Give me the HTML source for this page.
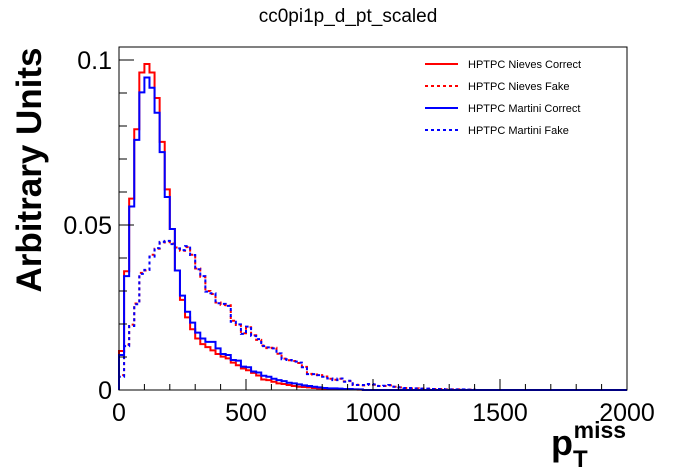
<!DOCTYPE html>
<html><head><meta charset="utf-8"><style>
body{margin:0;background:#fff;}
svg{display:block;font-family:"Liberation Sans",sans-serif;}
</style></head><body>
<svg id="c" width="696" height="472">
<rect width="696" height="472" fill="#fff"/>
<text x="348" y="22" font-size="19" text-anchor="middle">cc0pi1p_d_pt_scaled</text>
<g id="series"></g>
<rect x="119" y="47" width="508" height="343" fill="none" stroke="#000" stroke-width="1"/>
<g id="axes"></g>
<text transform="translate(41,170) rotate(-90)" font-size="35" font-weight="bold" text-anchor="middle">Arbitrary Units</text>
<text x="551" y="455" font-size="36" font-weight="bold">p<tspan font-size="24" dy="12">T</tspan><tspan font-size="23" dx="-14" dy="-29">miss</tspan></text>
<g id="legend"></g>
</svg>
<script>
const binWidth = 20;
const nieCorrect = [0.0118,0.036,0.058,0.079,0.0962,0.0988,0.0962,0.0885,0.0752,0.0608,0.0488,0.0362,0.0273,0.022,0.0184,0.0156,0.0139,0.013,0.012,0.0109,0.0101,0.0096,0.0083,0.0075,0.0065,0.006,0.0052,0.0044,0.0032,0.003,0.0025,0.002,0.0018,0.0015,0.0012,0.001,0.0009,0.0008,0.0006,0.0005,0.0004,0.0004,0.0003,0.0003,0.0002,0.0002,0.0002,0.0001];
const marCorrect = [0.0106,0.0345,0.0556,0.0758,0.0902,0.0947,0.0916,0.084,0.0721,0.0585,0.0488,0.0362,0.0286,0.0237,0.0204,0.0174,0.0156,0.0146,0.0146,0.0126,0.0109,0.0106,0.0091,0.0089,0.0071,0.0069,0.0056,0.0053,0.0043,0.004,0.0034,0.003,0.0027,0.0022,0.002,0.0017,0.0014,0.0012,0.001,0.0008,0.0006,0.0005,0.0005,0.0004,0.0003,0.0003,0.0002,0.0002];
const marFake = [0.004,0.0133,0.0194,0.026,0.0352,0.0364,0.0404,0.043,0.0449,0.0452,0.0442,0.0429,0.0424,0.0436,0.0409,0.0366,0.0345,0.0298,0.0293,0.0263,0.0261,0.0255,0.0207,0.0199,0.017,0.0192,0.0164,0.0154,0.0133,0.0129,0.0126,0.0111,0.0093,0.0091,0.0086,0.0083,0.0069,0.0048,0.0048,0.0045,0.004,0.0035,0.003,0.0035,0.0025,0.0028,0.0015,0.0015,0.0015,0.0018,0.0017,0.0012,0.0013,0.0015,0.001,0.0008,0.0006,0.0006,0.0005,0.0004,0.0004,0.0003,0.0003,0.0003,0.0002,0.0002,0.0002,0.0002,0.0001,0.0001];
const nieFake = [0.0045,0.0138,0.0198,0.0262,0.0355,0.0362,0.041,0.0428,0.0447,0.045,0.0444,0.0432,0.0422,0.0433,0.041,0.0368,0.0343,0.03,0.0291,0.0265,0.0258,0.0257,0.021,0.0197,0.0172,0.019,0.0166,0.0152,0.0135,0.0127,0.0128,0.011,0.0095,0.009,0.0088,0.0082,0.007,0.0049,0.0047,0.0045,0.0041,0.0034,0.0031,0.0034,0.0026,0.0027,0.0016,0.0015,0.0014,0.0017,0.0016,0.0012,0.0012,0.0014,0.001,0.0008,0.0006,0.0005,0.0005,0.0004,0.0004,0.0003,0.0003,0.0003,0.0002,0.0002,0.0002,0.0001,0.0001,0.0001];
const xTicks = [0,500,1000,1500,2000];
const yTicks = [0,0.05,0.1];
const yTickLabels = ["0","0.05","0.1"];
const legendNames = ["HPTPC Nieves Correct","HPTPC Nieves Fake","HPTPC Martini Correct","HPTPC Martini Fake"];

const X0=119,X1=627,Y0=390,Y1=47,XMAX=2000,YMAX=0.10394;
const sx=v=>X0+(v/XMAX)*(X1-X0);
const sy=v=>Y0-(v/YMAX)*(Y0-Y1);
const NS="http://www.w3.org/2000/svg";
function mk(t,a,p){const e=document.createElementNS(NS,t);for(const k in a)e.setAttribute(k,a[k]);p.appendChild(e);return e;}

const series=[
 {d:nieCorrect,c:"#ff0000",dash:null,n:"nieves-correct-line"},
 {d:nieFake,c:"#ff0000",dash:"3,3",n:"nieves-fake-line"},
 {d:marCorrect,c:"#0000ff",dash:null,n:"martini-correct-line"},
 {d:marFake,c:"#0000ff",dash:"3,3",n:"martini-fake-line"}];
const sg=document.getElementById("series");
series.forEach(s=>{
  let p="M"+sx(0)+","+sy(0);
  s.d.forEach((v,i)=>{p+=" L"+sx(i*binWidth)+","+sy(v)+" L"+sx((i+1)*binWidth)+","+sy(v);});
  p+=" L"+sx(s.d.length*binWidth)+","+sy(0)+" L"+sx(XMAX)+","+sy(0);
  const e=mk("path",{d:p,fill:"none",stroke:s.c,"stroke-width":2},sg);
  if(s.dash)e.setAttribute("stroke-dasharray",s.dash);
  
  
});

const ax=document.getElementById("axes");
for(let v=0;v<=XMAX;v+=100){const maj=v%500===0;mk("line",{x1:sx(v),x2:sx(v),y1:Y0,y2:Y0-(maj?11:6),stroke:"#000"},ax);}
xTicks.forEach(v=>{const t=mk("text",{x:sx(v),y:421,"font-size":25,"text-anchor":"middle"},ax);t.textContent=v;
  
  });
for(let k=0;k<=10;k++){const v=k*0.01;const maj=k%5===0;mk("line",{x1:X0,x2:X0+(maj?15:8),y1:sy(v),y2:sy(v),stroke:"#000"},ax);}
yTicks.forEach((v,i)=>{const t=mk("text",{x:112,y:sy(v)+9,"font-size":25,"text-anchor":"end"},ax);t.textContent=yTickLabels[i];
  
  });

const lg=document.getElementById("legend");
legendNames.forEach((n,i)=>{const y=64+i*22;const s=series[i];
  const l=mk("line",{x1:425,x2:458,y1:y,y2:y,stroke:s.c,"stroke-width":2},lg);
  if(s.dash)l.setAttribute("stroke-dasharray","3,3");
  
  
  const t=mk("text",{x:468,y:y+4,"font-size":11},lg);t.textContent=n;
  
  
});
</script>
</body></html>
